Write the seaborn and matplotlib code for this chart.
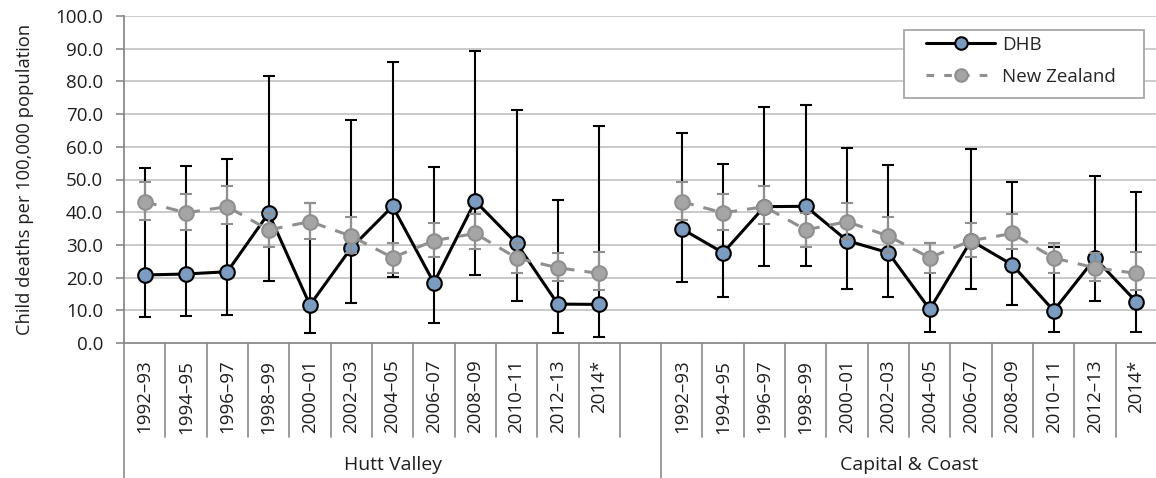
import numpy as np
import pandas as pd
import matplotlib
matplotlib.use("Agg")
import matplotlib.pyplot as plt
import matplotlib.transforms as mtransforms
from matplotlib.lines import Line2D
from matplotlib.patches import Rectangle
import seaborn as sns

# ---------------- data ----------------
periods = ["1992–93", "1994–95", "1996–97", "1998–99", "2000–01", "2002–03",
           "2004–05", "2006–07", "2008–09", "2010–11", "2012–13", "2014*"]
groups = ["Hutt Valley", "Capital & Coast"]

hutt_dhb = [20.8, 21.1, 21.8, 39.7, 11.6, 29.1, 41.8, 18.4, 43.4, 30.5, 11.9, 11.8]
hutt_lo = [8.0, 8.3, 8.6, 19.1, 3.2, 12.3, 20.3, 6.2, 20.8, 12.9, 3.2, 1.9]
hutt_hi = [53.4, 54.2, 56.2, 81.7, 42.7, 68.2, 86.0, 53.9, 89.4, 71.3, 43.6, 66.5]

cc_dhb = [34.9, 27.6, 41.7, 41.8, 31.3, 27.6, 10.3, 31.3, 23.9, 9.9, 25.9, 12.6]
cc_lo = [18.8, 14.0, 23.5, 23.6, 16.4, 14.0, 3.5, 16.4, 11.6, 3.5, 12.9, 3.5]
cc_hi = [64.1, 54.6, 72.1, 72.7, 59.5, 54.4, 30.5, 59.2, 49.3, 29.4, 51.2, 46.1]

nz = [43.2, 39.8, 41.7, 34.6, 37.1, 32.7, 26.1, 31.3, 33.5, 26.0, 23.0, 21.3]
nz_lo = [37.6, 34.6, 36.3, 29.4, 31.7, 27.6, 21.5, 26.4, 28.7, 21.5, 19.0, 16.2]
nz_hi = [49.3, 45.7, 48.0, 39.7, 42.7, 38.4, 30.7, 36.8, 39.4, 30.7, 27.4, 27.9]

yticks = [0, 10, 20, 30, 40, 50, 60, 70, 80, 90, 100]
ylabel = "Child deaths per 100,000 population"

# ---------------- build long table ----------------
n = len(periods)
rows = []
for gi, (g, d, lo, hi) in enumerate(zip(groups, [hutt_dhb, cc_dhb], [hutt_lo, cc_lo], [hutt_hi, cc_hi])):
    for i in range(n):
        pos = gi * (n + 1) + i
        rows.append(dict(group=g, period=periods[i], pos=pos, series="DHB", value=d[i], lo=lo[i], hi=hi[i]))
        rows.append(dict(group=g, period=periods[i], pos=pos, series="New Zealand", value=nz[i], lo=nz_lo[i], hi=nz_hi[i]))
df = pd.DataFrame(rows)

# ---------------- style ----------------
sns.set_theme(style="white")
plt.rcParams["font.family"] = ["Open Sans", "DejaVu Sans"]
FS = 13.5
TXT = "#1e1e1e"

W, H = 1156, 478
fig = plt.figure(figsize=(W / 100, H / 100), dpi=100)
left_px, right_px, top_px, bottom_px = 124, 1157, 16, 343
pw, ph = right_px - left_px, bottom_px - top_px
ax = fig.add_axes([left_px / W, 1 - bottom_px / H, pw / W, ph / H])

blue = "#7b9cc0"
gray_line = "#8f8f8f"
gray_face = "#a5a5a5"
grid_c = "#c6c6c6"
axis_c = "#8a8a8a"

# grid
for y in yticks[1:]:
    ax.axhline(y, color=grid_c, lw=1.3, zorder=0)

styles = {
    "DHB": dict(color="black", lw=2.2, mfc=blue, mec="black", ecolor="black", z=3, dashes=None),
    "New Zealand": dict(color=gray_line, lw=2.2, mfc=gray_face, mec=gray_line, ecolor=gray_line, z=5, dashes=(4, 3.3)),
}

for s in ["DHB", "New Zealand"]:
    st = styles[s]
    for g in groups:
        sub = df[(df.series == s) & (df.group == g)]
        ax.errorbar(sub.pos, sub.value, yerr=[sub.value - sub.lo, sub.hi - sub.value],
                    fmt="none", ecolor=st["ecolor"], elinewidth=1.5, capsize=4.5, capthick=1.5,
                    zorder=st["z"])
        sns.lineplot(data=sub, x="pos", y="value", ax=ax, color=st["color"], lw=st["lw"],
                     marker="o", markersize=10.5, markerfacecolor=st["mfc"], markeredgecolor=st["mec"],
                     markeredgewidth=1.5, zorder=st["z"] + 1, legend=False, errorbar=None)
        if st["dashes"] is not None:
            ax.lines[-1].set_dashes(st["dashes"])

h_dhb = Line2D([0], [0], color="black", lw=2.2, marker="o", markersize=9,
               markerfacecolor=blue, markeredgecolor="black", markeredgewidth=1.5)
h_nz = Line2D([0], [0], color=gray_line, lw=2.2, marker="o", markersize=9,
              markerfacecolor=gray_face, markeredgecolor=gray_line, markeredgewidth=1.5, dashes=(2.5, 3.3))

# axes
total = 2 * n + 1
ax.set_xlim(-0.5, total - 0.5)
ax.set_ylim(0, 100)
ax.set_yticks(yticks)
ax.set_yticklabels([f"{v:.1f}" for v in yticks], fontsize=FS, color=TXT)
ax.tick_params(axis="y", length=6, width=1.2, color=axis_c, pad=9, left=True)

xpos = list(range(n)) + list(range(n + 1, 2 * n + 1))
xlabels = periods + periods
ax.set_xticks(xpos)
ax.set_xticklabels(xlabels, rotation=90, fontsize=FS, color=TXT)
ax.tick_params(axis="x", length=0, pad=12)
ax.set_xlabel("")
ax.set_ylabel(ylabel, fontsize=13.2, color=TXT)
ax.yaxis.set_label_coords((25 - left_px) / pw, 0.5)
ax.yaxis.label.set_va("center")

for sp in ["top", "right"]:
    ax.spines[sp].set_visible(False)
for sp in ["left", "bottom"]:
    ax.spines[sp].set_color(axis_c)
    ax.spines[sp].set_linewidth(1.3)

# category separators below axis
trans = mtransforms.blended_transform_factory(ax.transData, ax.transAxes)
short = -(437 - bottom_px) / ph
long_ = -(H - bottom_px) / ph
for k in range(total + 1):
    x = k - 0.5
    y1 = long_ if k in (0, n + 1, total) else short
    ax.add_line(Line2D([x, x], [0, y1], transform=trans, color=axis_c, lw=1.2, clip_on=False))

# group labels
centers = [(-0.5 + n + 0.5) / 2, (n + 0.5 + total - 0.5) / 2]
for c, g in zip(centers, groups):
    ax.text(c, -(465 - bottom_px) / ph, g, transform=trans, ha="center", va="center",
            fontsize=14, color=TXT)

# legend frame (drawn as a patch in the axes, below the legend)
frame = Rectangle((904 / W, 1 - 98 / H), (1144 - 904) / W, (98 - 30) / H,
                  transform=fig.transFigure, facecolor="white", edgecolor="#a8a8a8",
                  lw=1.3, zorder=9, clip_on=False)
ax.add_patch(frame)

leg = ax.legend([h_dhb, h_nz], ["DHB", "New Zealand"],
                loc="upper left", bbox_to_anchor=(926 / W, 1 - 36 / H),
                bbox_transform=fig.transFigure, frameon=False,
                handlelength=3.7, fontsize=FS, borderpad=0, labelspacing=0.72,
                handletextpad=0.35, borderaxespad=0)
leg.set_zorder(11)

fig.savefig("out.png", dpi=100)
